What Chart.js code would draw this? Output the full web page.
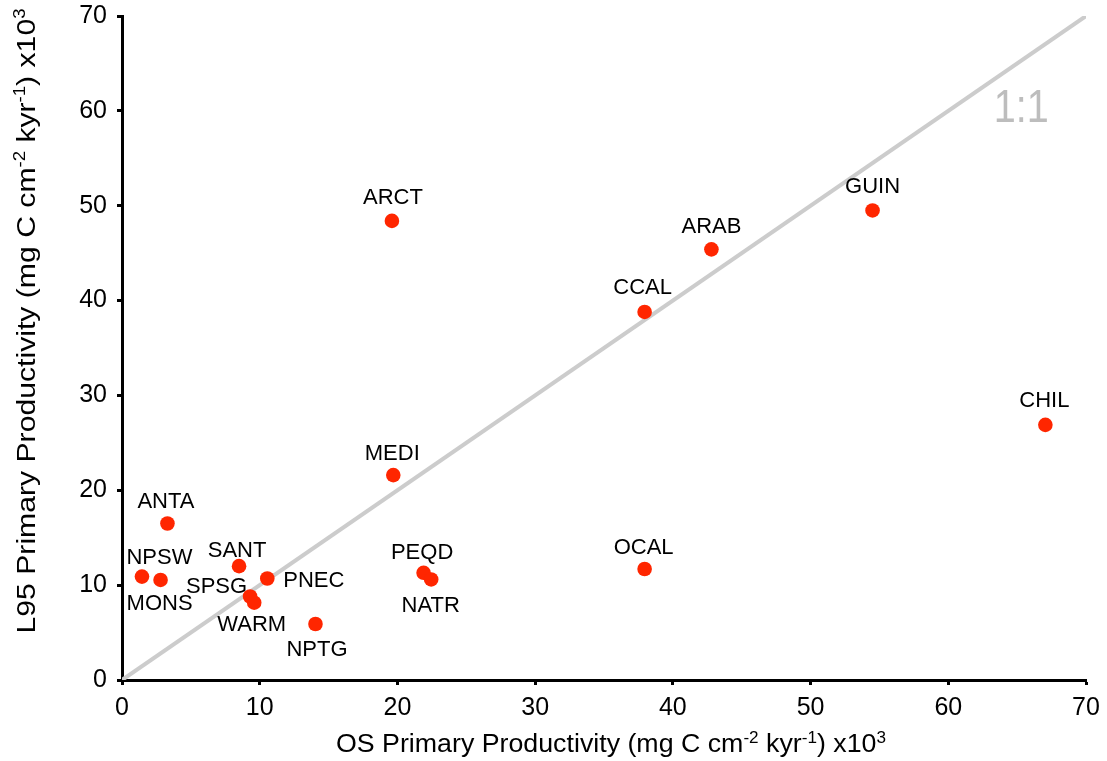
<!DOCTYPE html>
<html>
<head>
<meta charset="utf-8">
<script src="https://cdn.jsdelivr.net/npm/chart.js@4.4.1/dist/chart.umd.min.js"></script>
<style>
  html, body { margin: 0; padding: 0; background: #fff; }
  #wrap { width: 1107px; height: 761px; }
</style>
</head>
<body>
<div id="wrap"><canvas id="c" width="1107" height="761"></canvas></div>
<script>
// Province codes and primary productivity estimates (mg C cm^-2 kyr^-1, x10^3)
const provinces = ['ARCT','GUIN','ARAB','CCAL','CHIL','MEDI','OCAL','ANTA','NPSW','MONS','SANT','PNEC','SPSG','WARM','NPTG','PEQD','NATR'];
const osProductivity  = [19.6, 54.5, 42.8, 37.95, 67.05, 19.7, 37.95, 3.3, 1.45, 2.8, 8.5, 10.55, 9.3, 9.6, 14.05, 21.9, 22.45];
const l95Productivity = [48.4, 49.5, 45.4, 38.8, 26.9, 21.6, 11.7, 16.5, 10.9, 10.55, 12.0, 10.7, 8.8, 8.15, 5.9, 11.3, 10.6];
const axisTicks = [0, 10, 20, 30, 40, 50, 60, 70];
const oneToOne = [0, 70];

// Label placement relative to each marker (pixels: horizontal centre shift, baseline shift)
const labelOffsets = {
  ARCT: [1, -16.5], GUIN: [0, -17], ARAB: [0, -16.5], CCAL: [-2, -18], CHIL: [-1, -17.5],
  MEDI: [-1, -15.5], OCAL: [-1, -15.5], ANTA: [-1.5, -15], NPSW: [17.5, -12.5], MONS: [-1, 30],
  SANT: [-2, -9.5], PNEC: [46.5, 8.5], SPSG: [-33.5, -4], WARM: [-2.5, 28], NPTG: [1.5, 32],
  PEQD: [-1.5, -14], NATR: [-0.5, 33]
};

const FONT = '"Liberation Sans", Arial, Helvetica, sans-serif';

// Draws a run of text with superscript pieces, centred on the origin and
// squeezed/stretched along its length to the requested span.
function drawRich(ctx, parts, size, span) {
  const supSize = Math.round(size * 0.62);
  const supRise = size * 0.38;
  let w = 0;
  parts.forEach(p => {
    ctx.font = (p.sup ? supSize : size) + 'px ' + FONT;
    p.w = ctx.measureText(p.t).width;
    w += p.w;
  });
  const k = span ? span / w : 1;
  ctx.scale(k, 1);
  let x = -w / 2;
  parts.forEach(p => {
    ctx.font = (p.sup ? supSize : size) + 'px ' + FONT;
    ctx.fillText(p.t, x, p.sup ? -supRise : 0);
    x += p.w;
  });
}

const titleParts = (prefix) => [
  { t: prefix + ' Primary Productivity (mg C cm' }, { t: '-2', sup: true },
  { t: ' kyr' }, { t: '-1', sup: true }, { t: ') x10' }, { t: '3', sup: true }
];

const annotations = {
  id: 'annotations',
  afterDatasetsDraw(chart) {
    const ctx = chart.ctx;
    const xs = chart.scales.x, ys = chart.scales.y;
    ctx.save();
    // province labels
    ctx.fillStyle = '#000';
    ctx.font = '22px ' + FONT;
    ctx.textAlign = 'center';
    ctx.textBaseline = 'alphabetic';
    const meta = chart.getDatasetMeta(0);
    meta.data.forEach((pt, i) => {
      const off = labelOffsets[provinces[i]] || [0, -16];
      ctx.fillText(provinces[i], pt.x + off[0], pt.y + off[1]);
    });
    // 1:1 line label
    ctx.save();
    ctx.fillStyle = '#bdbdbd';
    ctx.font = '46px ' + FONT;
    ctx.textAlign = 'right';
    ctx.translate(xs.getPixelForValue(67.3), ys.getPixelForValue(58.8));
    ctx.scale(0.86, 1);
    ctx.fillText('1:1', 0, 0);
    ctx.restore();
    ctx.restore();
  },
  afterDraw(chart) {
    const ctx = chart.ctx;
    ctx.save();
    ctx.fillStyle = '#000';
    ctx.textAlign = 'left';
    ctx.textBaseline = 'alphabetic';
    // x axis title
    ctx.save();
    ctx.translate(611, 752);
    drawRich(ctx, titleParts('OS'), 25, 550);
    ctx.restore();
    // y axis title
    ctx.save();
    ctx.translate(35, 321);
    ctx.rotate(-Math.PI / 2);
    drawRich(ctx, titleParts('L95'), 26, 625);
    ctx.restore();
    ctx.restore();
  }
};

const axisCommon = {
  type: 'linear',
  min: 0,
  max: 70,
  afterBuildTicks(scale) { scale.ticks = axisTicks.map(v => ({ value: v })); },
  border: { display: true, color: '#000', width: 3 },
  grid: { display: true, drawOnChartArea: false, drawTicks: true, tickLength: 5, tickColor: '#000', tickWidth: 3 },
  ticks: { color: '#000', font: { family: FONT, size: 25 }, maxRotation: 0 },
  title: { display: false }
};

new Chart(document.getElementById('c'), {
  type: 'scatter',
  data: {
    datasets: [
      {
        label: 'Provinces',
        data: provinces.map((p, i) => ({ x: osProductivity[i], y: l95Productivity[i] })),
        backgroundColor: 'rgb(255,38,0)',
        borderWidth: 0,
        pointRadius: 7.3,
        pointHoverRadius: 7.3,
        order: 0
      },
      {
        label: '1:1',
        type: 'line',
        data: oneToOne.map(v => ({ x: v, y: v })),
        borderColor: '#cccccc',
        borderWidth: 4,
        pointRadius: 0,
        fill: false,
        order: 1
      }
    ]
  },
  options: {
    responsive: false,
    animation: false,
    devicePixelRatio: 1,
    layout: { padding: { top: 16, right: 21, left: 0, bottom: 0 } },
    plugins: { legend: { display: false }, tooltip: { enabled: false } },
    scales: {
      x: Object.assign({}, axisCommon, {
        position: 'bottom',
        ticks: Object.assign({}, axisCommon.ticks, { padding: 8 }),
        afterFit(scale) {
          scale.height = 81;
          scale.paddingLeft = 0;
          scale.paddingRight = 0;
        }
      }),
      y: Object.assign({}, axisCommon, {
        position: 'left',
        ticks: Object.assign({}, axisCommon.ticks, { padding: 10 }),
        afterFit(scale) {
          scale.width = 122;
          scale.paddingTop = 0;
          scale.paddingBottom = 0;
        }
      })
    }
  },
  plugins: [annotations]
});
</script>
</body>
</html>
